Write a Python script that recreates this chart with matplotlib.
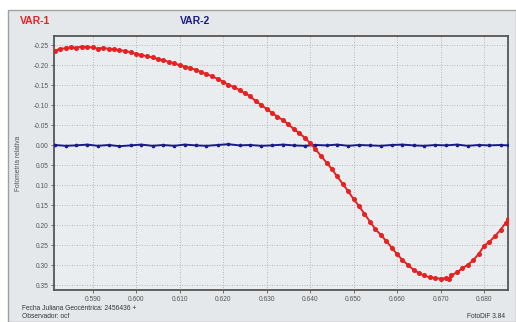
import matplotlib
matplotlib.use("Agg")
import matplotlib.pyplot as plt
from matplotlib.patches import Rectangle

plt.rcParams["font.family"] = ["Liberation Sans", "DejaVu Sans"]
plt.rcParams["axes.unicode_minus"] = False

# ---- data ----
var1_x = [0.5813, 0.5825, 0.5838, 0.5850, 0.5862, 0.5875, 0.5888, 0.5900, 0.5912, 0.5925,
          0.5938, 0.5950, 0.5962, 0.5975, 0.5988, 0.6000, 0.6012, 0.6025, 0.6038, 0.6050,
          0.6062, 0.6075, 0.6088, 0.6100, 0.6112, 0.6125, 0.6138, 0.6150, 0.6162, 0.6175,
          0.6188, 0.6200, 0.6212, 0.6225, 0.6238, 0.6250, 0.6262, 0.6275, 0.6288, 0.6300,
          0.6312, 0.6325, 0.6338, 0.6350, 0.6362, 0.6375, 0.6388, 0.6400, 0.6412, 0.6425,
          0.6438, 0.6450, 0.6462, 0.6475, 0.6488, 0.6500, 0.6512, 0.6525, 0.6538, 0.6550,
          0.6562, 0.6575, 0.6588, 0.6600, 0.6612, 0.6625, 0.6638, 0.6650, 0.6662, 0.6675,
          0.6688, 0.6700, 0.6712, 0.6720, 0.6725, 0.6738, 0.6750, 0.6762, 0.6775, 0.6788,
          0.6800, 0.6812, 0.6825, 0.6838, 0.6850, 0.6855]
var1_y = [-0.236, -0.240, -0.242, -0.244, -0.243, -0.246, -0.245, -0.244, -0.241, -0.243,
          -0.240, -0.239, -0.237, -0.235, -0.232, -0.228, -0.225, -0.222, -0.219, -0.215,
          -0.212, -0.208, -0.204, -0.200, -0.196, -0.192, -0.188, -0.182, -0.177, -0.172,
          -0.165, -0.158, -0.151, -0.145, -0.137, -0.130, -0.122, -0.110, -0.100, -0.090,
          -0.081, -0.071, -0.062, -0.052, -0.040, -0.030, -0.018, -0.005, 0.010, 0.027,
          0.044, 0.060, 0.078, 0.097, 0.116, 0.135, 0.152, 0.172, 0.192, 0.210,
          0.224, 0.240, 0.257, 0.273, 0.287, 0.300, 0.312, 0.320, 0.326, 0.331,
          0.333, 0.334, 0.333, 0.336, 0.326, 0.318, 0.308, 0.300, 0.288, 0.272,
          0.252, 0.242, 0.228, 0.212, 0.194, 0.186]

var2_x = [0.5813, 0.5838, 0.5862, 0.5888, 0.5912, 0.5938, 0.5962, 0.5988, 0.6012, 0.6038,
          0.6062, 0.6088, 0.6112, 0.6138, 0.6162, 0.6188, 0.6212, 0.6238, 0.6262, 0.6288,
          0.6312, 0.6338, 0.6362, 0.6388, 0.6412, 0.6438, 0.6462, 0.6488, 0.6512, 0.6538,
          0.6562, 0.6588, 0.6612, 0.6638, 0.6662, 0.6688, 0.6712, 0.6738, 0.6762, 0.6788,
          0.6812, 0.6838, 0.6855]
var2_y = [0.000, 0.002, 0.001, -0.001, 0.002, 0.000, 0.003, 0.001, -0.001, 0.002,
          0.000, 0.002, -0.001, 0.001, 0.002, 0.000, -0.002, 0.001, 0.000, 0.002,
          0.001, -0.001, 0.001, 0.002, 0.000, 0.001, -0.001, 0.002, 0.000, 0.001,
          0.002, 0.000, -0.001, 0.001, 0.002, 0.000, 0.001, -0.001, 0.002, 0.000,
          0.001, 0.000, 0.001]

x_ticks = [0.590, 0.600, 0.610, 0.620, 0.630, 0.640, 0.650, 0.660, 0.670, 0.680]
y_ticks = [-0.25, -0.20, -0.15, -0.10, -0.05, 0.00, 0.05, 0.10, 0.15, 0.20, 0.25, 0.30, 0.35]

RED = "#e52222"
BLUE = "#1a1a88"
W, H = 516, 322

fig = plt.figure(figsize=(W / 100, H / 100), dpi=100)
fig.patch.set_facecolor("white")
bg = Rectangle((8 / W, 0), 1 - 8 / W, (H - 10) / H, transform=fig.transFigure,
               facecolor="#e5e8eb", edgecolor="#a0a0a0", linewidth=1.0, zorder=-10)
fig.add_artist(bg)

ax = fig.add_axes([54 / W, (H - 290) / H, (508 - 54) / W, (290 - 36) / H])
ax.set_zorder(5)
ax.set_facecolor("#eaedf0")
ax.plot(var2_x, var2_y, color=BLUE, marker="o", markersize=1.6, linewidth=1.4, zorder=3)
ax.plot(var1_x, var1_y, color=RED, marker="o", markersize=2.6, linewidth=1.4, zorder=4)

ax.set_xlim(0.58115, 0.6855)
ax.set_ylim(0.3625, -0.2725)
ax.set_xticks(x_ticks)
ax.set_xticklabels([f"{v:.3f}" for v in x_ticks])
ax.set_yticks(y_ticks)
ax.set_yticklabels([f"{v:.2f}" for v in y_ticks])
ax.tick_params(labelsize=4.8, colors="#555555", length=2, width=0.6, pad=2)
ax.grid(True, linestyle=(0, (1.2, 1.8)), color="#b0b0b0", linewidth=0.6)
for s in ax.spines.values():
    s.set_color("#555555")
    s.set_linewidth(1.3)

ax.set_ylabel("Fotometría relativa", fontsize=4.8, color="#555555", labelpad=8)

fig.text(20 / W, 1 - 21 / H, "VAR-1", color=RED, fontsize=7.5, fontweight="bold", va="center")
fig.text(180 / W, 1 - 21 / H, "VAR-2", color=BLUE, fontsize=7.5, fontweight="bold", va="center")
fig.text(22 / W, 1 - 309 / H, "Fecha Juliana Geocéntrica: 2456436 +", fontsize=4.8,
         color="#333333", va="center")
fig.text(22 / W, 1 - 316.5 / H, "Observador: ocf", fontsize=4.8, color="#333333", va="center")
fig.text(467 / W, 1 - 316.5 / H, "FotoDiF 3.84", fontsize=4.8, color="#333333", va="center")

fig.savefig("out.png", dpi=100)
